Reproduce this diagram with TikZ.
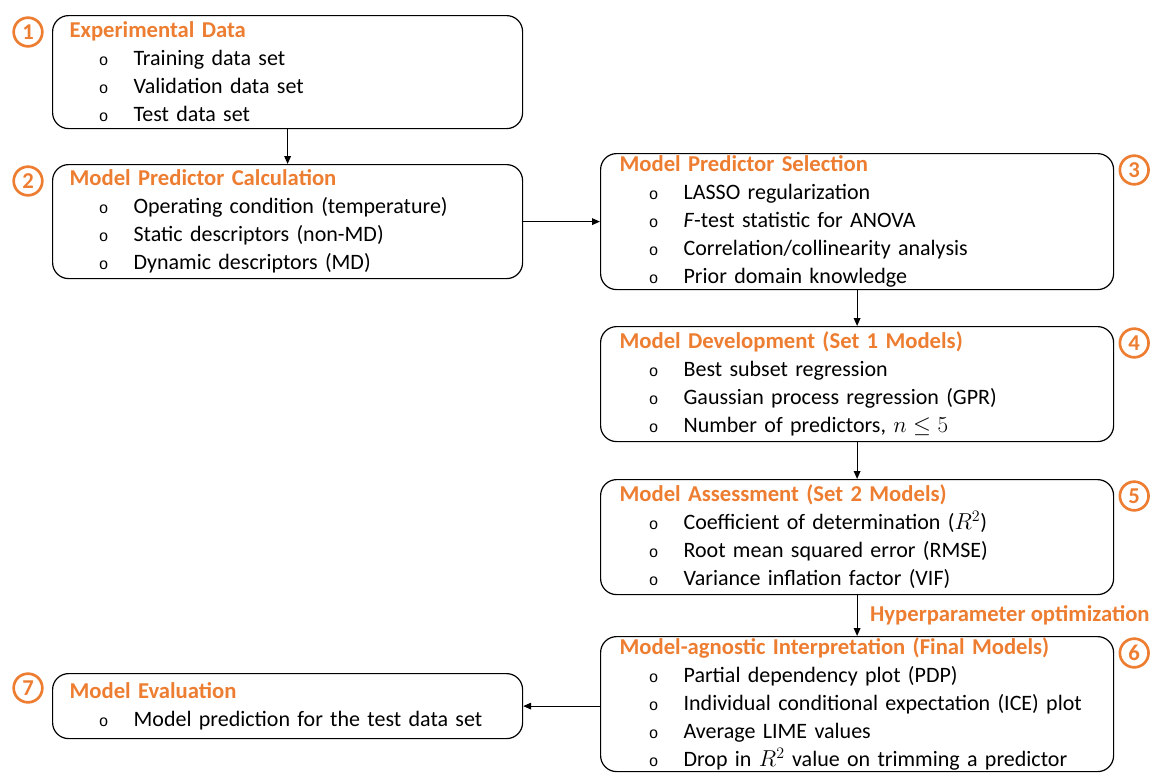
\documentclass[tikz,border=0pt]{standalone}
\usepackage[no-math]{fontspec}
\setmainfont{Carlito}
\newfontfamily\bulletfont{Liberation Mono}
\usetikzlibrary{arrows.meta,calc}
\definecolor{orng}{HTML}{ED7D31}
\newcommand{\itm}[1]{\hspace*{22pt}\makebox[26pt][l]{\bulletfont\fontsize{12}{12}\selectfont o}#1}
\newcommand{\hd}[1]{{\color{orng}\bfseries\fontsize{17}{21}\selectfont #1}}

\begin{document}
\begin{tikzpicture}[x=0.75pt,y=-0.75pt,
        stage/.style={draw,rounded corners=12pt,line width=0.9pt,anchor=north west,align=left,
            inner ysep=0pt,font=\fontsize{16.5}{21}\selectfont},
        lbox/.style={stage,inner xsep=12.75pt,text width=327pt,minimum height=#1},
        rbox/.style={stage,inner xsep=14.25pt,text width=356.25pt,minimum height=#1},
        num/.style={circle,draw=orng,line width=2pt,text=orng,inner sep=0pt,minimum size=21.5pt,
            font=\fontsize{17}{17}\selectfont\bfseries},
        flow/.style={-{Triangle[length=6pt,width=5pt]},line width=0.9pt}]

    \useasboundingbox (0,0) rectangle (1157,772);

    % left column
    \node[lbox=84.75pt] (exp) at (52,15) {\hd{Experimental Data}\\
        \itm{Training data set}\\
        \itm{Validation data set}\\
        \itm{Test data set}};
    \node[lbox=85.5pt] (calc) at (52,164) {\hd{Model Predictor Calculation}\\
        \itm{Operating condition (temperature)}\\
        \itm{Static descriptors (non-MD)}\\
        \itm{Dynamic descriptors (MD)}};
    \node[lbox=48.75pt] (eval) at (52,673) {\hd{Model Evaluation}\\
        \itm{Model prediction for the test data set}};

    % right column
    \node[rbox=102pt] (sel) at (600,153) {\hd{Model Predictor Selection}\\
        \itm{LASSO regularization}\\
        \itm{\textit{F}-test statistic for ANOVA}\\
        \itm{Correlation/collinearity analysis}\\
        \itm{Prior domain knowledge}};
    \node[rbox=86.25pt] (dev) at (600,326) {\hd{Model Development (Set 1 Models)}\\
        \itm{Best subset regression}\\
        \itm{Gaussian process regression (GPR)}\\
        \itm{Number of predictors, $n\leq 5$}};
    \node[rbox=86.25pt] (assess) at (600,479) {\hd{Model Assessment (Set 2 Models)}\\
        \itm{Coefficient of determination ($R^2$)}\\
        \itm{Root mean squared error (RMSE)}\\
        \itm{Variance inflation factor (VIF)}};
    \node[rbox=101.25pt] (interp) at (600,636) {\hd{Model-agnostic Interpretation (Final Models)}\\
        \itm{Partial dependency plot (PDP)}\\
        \itm{Individual conditional expectation (ICE) plot}\\
        \itm{Average LIME values}\\
        \itm{Drop in $R^2$ value on trimming a predictor}};

    % step numbers
    \node[num] (n1) at ($(exp.north west)+(-24,17)$) {1};
    \node[num] (n2) at ($(calc.north west)+(-24,17)$) {2};
    \node[num] (n3) at ($(sel.north east)+(20,17)$) {3};
    \node[num] (n4) at ($(dev.north east)+(20,17)$) {4};
    \node[num] (n5) at ($(assess.north east)+(20,17)$) {5};
    \node[num] (n6) at ($(interp.north east)+(20,17)$) {6};
    \node[num] (n7) at ($(eval.north west)+(-24,15)$) {7};

    % connectors
    \draw[flow] (exp.south) -- (calc.north);
    \draw[flow] (calc.east) -- (calc.east -| sel.west);
    \draw[flow] (sel.south) -- (dev.north);
    \draw[flow] (dev.south) -- (assess.north);
    \draw[flow] (assess.south) -- (interp.north)
        node[midway,anchor=west,xshift=6pt,text=orng,font=\fontsize{17}{17}\selectfont\bfseries] (hyp) {Hyperparameter optimization};
    \draw[flow] (eval.east -| interp.west) -- (eval.east);
\end{tikzpicture}
\end{document}
